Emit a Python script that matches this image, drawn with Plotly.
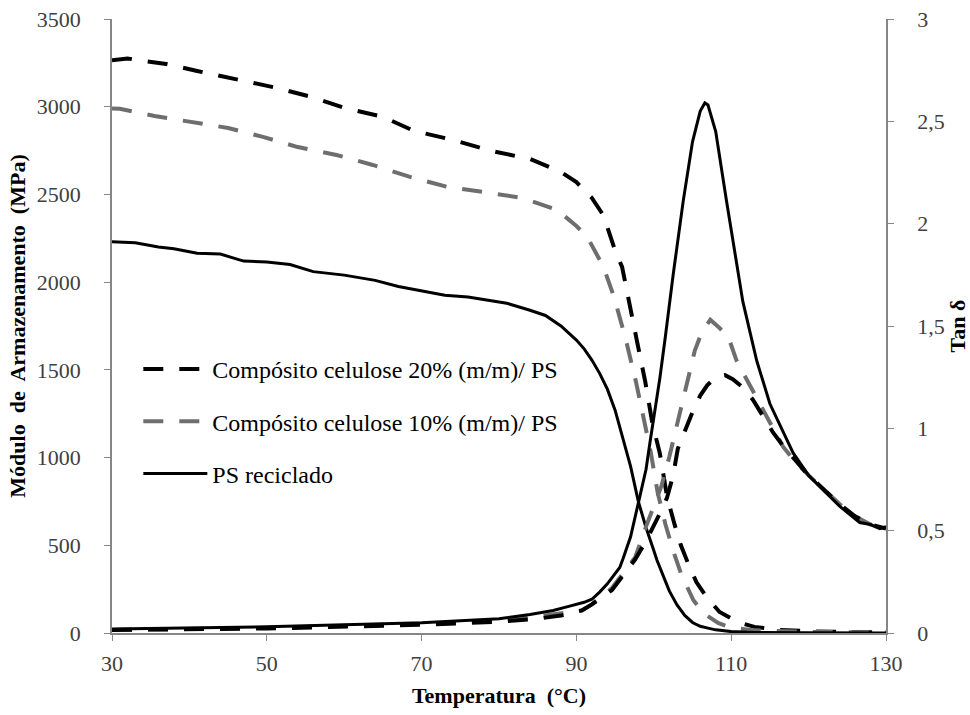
import plotly.graph_objects as go

# ---------------- data ----------------
# Storage modulus (MPa), left axis
T_E20 = [30, 32, 34, 37, 41, 46, 51, 56, 60, 65, 69, 74, 79, 84, 88, 90, 92, 93.5, 94.3, 95, 95.9, 96.9,
         97.8, 98.9, 99.8, 100.8, 101.7, 102.7, 103.5, 104.4, 105.5, 106.9, 108.5, 110.8, 113, 116, 120, 125, 130]
E20 = [3265, 3275, 3262, 3244, 3204, 3158, 3110, 3053, 2993, 2942, 2862, 2811, 2748, 2702, 2628, 2570, 2480,
       2380, 2280, 2180, 2087, 1881, 1670, 1431, 1200, 1020, 780, 616, 500, 400, 290, 200, 120, 63, 35, 18, 10, 6, 4]

T_E10 = [30, 31, 35.5, 40.5, 45, 49.5, 54, 59, 63.7, 68.5, 73.3, 78, 83, 87.5, 90, 91.4, 92.5, 93.5, 94.9,
         96.4, 97.7, 98.7, 99.6, 100.5, 101.5, 102.5, 103.5, 105.1, 106.5, 108.3, 110, 113, 120, 130]
E10 = [2990, 2988, 2947, 2913, 2879, 2828, 2770, 2725, 2668, 2600, 2543, 2514, 2480, 2412, 2320, 2258, 2170,
       2087, 1910, 1670, 1431, 1231, 1032, 800, 620, 470, 340, 188, 110, 57, 30, 15, 6, 3]

T_EPS = [30, 33, 36, 38, 41, 44, 47, 50, 53, 56, 60, 64, 67, 70, 73, 76, 79, 81, 84, 86, 88, 89, 90, 91, 92,
         93, 94, 95, 95.6, 96, 97, 98, 99, 100, 100.4, 101, 102, 103, 104, 105, 106, 107, 108, 110, 113, 120, 130]
EPS = [2230, 2225, 2200, 2190, 2165, 2160, 2120, 2115, 2100, 2060, 2040, 2010, 1975, 1950, 1925, 1915, 1895,
       1880, 1840, 1810, 1750, 1710, 1670, 1620, 1556, 1480, 1390, 1270, 1175, 1110, 950, 750, 600, 470, 416,
       350, 240, 160, 100, 60, 38, 28, 18, 8, 3, 1, 0]

# Tan delta, right axis
T_TPS = [30, 40, 50, 60, 70, 75, 80, 84, 87, 89, 91, 92, 93, 94, 95, 95.6, 96, 97, 98, 99, 99.5, 100, 100.8,
         101.5, 102.5, 103.8, 105, 106, 106.6, 107, 107.5, 108, 109.4, 110.5, 111.5, 113.3, 115, 116.5, 118, 120,
         122.4, 124, 126.6, 128, 129.2, 130]
TPS = [0.02, 0.025, 0.03, 0.04, 0.05, 0.06, 0.07, 0.09, 0.11, 0.13, 0.15, 0.165, 0.2, 0.24, 0.29, 0.32, 0.36,
       0.47, 0.635, 0.8, 0.93, 1.05, 1.25, 1.45, 1.75, 2.11, 2.40, 2.55, 2.59, 2.58, 2.52, 2.45, 2.11, 1.85, 1.62,
       1.33, 1.12, 1.0, 0.88, 0.77, 0.68, 0.62, 0.54, 0.53, 0.51, 0.52]

T_T10 = [30, 50, 70, 80, 85, 88, 90.7, 92, 94.6, 96, 97.6, 99, 100, 101, 102, 102.7, 103.5, 104.4, 105.3, 106.2,
         107.3, 108.5, 109.6, 110.7, 112, 114, 116.7, 118, 120, 122, 124, 126, 128, 130]
T10 = [0.015, 0.025, 0.045, 0.06, 0.08, 0.095, 0.11, 0.14, 0.22, 0.29, 0.37, 0.52, 0.62, 0.72, 0.86, 0.97, 1.1,
       1.24, 1.38, 1.47, 1.53, 1.49, 1.45, 1.33, 1.24, 1.10, 0.91, 0.85, 0.77, 0.70, 0.63, 0.57, 0.53, 0.51]

T_T20 = [30, 50, 70, 80, 85, 88, 90.7, 92, 94.6, 96, 97.6, 99, 100, 101, 101.7, 102.5, 103.1, 104, 104.9, 106,
         106.9, 108, 109.2, 110.2, 111.5, 112.8, 114, 115.4, 117, 118.9, 120, 122, 124, 126, 128, 130]
T20 = [0.015, 0.022, 0.04, 0.055, 0.07, 0.085, 0.11, 0.14, 0.21, 0.28, 0.36, 0.45, 0.52, 0.6, 0.66, 0.77, 0.9,
       0.99, 1.07, 1.16, 1.21, 1.25, 1.26, 1.24, 1.2, 1.14, 1.07, 0.98, 0.9, 0.82, 0.77, 0.70, 0.63, 0.57, 0.53, 0.51]

NAMES = ["Compósito celulose 20% (m/m)/ PS", "Compósito celulose 10% (m/m)/ PS", "PS reciclado"]

X_TICKS = [30, 50, 70, 90, 110, 130]
Y_TICKS = [0, 500, 1000, 1500, 2000, 2500, 3000, 3500]
Y2_TICKS = [0, 0.5, 1, 1.5, 2, 2.5, 3]
Y2_LABELS = ["0", "0,5", "1", "1,5", "2", "2,5", "3"]

# ---------------- styling ----------------
FONT = "Liberation Serif, Times New Roman, serif"
BLACK = "#000000"
GRAY = "#6e6e6e"
AXIS = "#868686"
DASH = "20px,16px"

fig = go.Figure()

# tan delta curves (secondary axis)
fig.add_trace(go.Scatter(x=T_T10, y=T10, yaxis="y2", mode="lines", showlegend=False,
                         line=dict(color=GRAY, width=4, dash=DASH)))
fig.add_trace(go.Scatter(x=T_T20, y=T20, yaxis="y2", mode="lines", showlegend=False,
                         line=dict(color=BLACK, width=4, dash=DASH)))
fig.add_trace(go.Scatter(x=T_TPS, y=TPS, yaxis="y2", mode="lines", showlegend=False,
                         line=dict(color=BLACK, width=3)))

# modulus curves (primary axis)
fig.add_trace(go.Scatter(x=T_E20, y=E20, mode="lines", name=NAMES[0], legendgroup="a",
                         line=dict(color=BLACK, width=4, dash=DASH)))
fig.add_trace(go.Scatter(x=T_E10, y=E10, mode="lines", name=NAMES[1], legendgroup="b",
                         line=dict(color=GRAY, width=4, dash=DASH)))
fig.add_trace(go.Scatter(x=T_EPS, y=EPS, mode="lines", name=NAMES[2], legendgroup="c",
                         line=dict(color=BLACK, width=3)))

tickfont = dict(family=FONT, size=22, color="#404040")
titlefont = dict(family=FONT, size=22, color="#000000", weight="bold")

fig.update_layout(
    width=970, height=715,
    margin=dict(l=112, r=84, t=19, b=82, autoexpand=False),
    paper_bgcolor="white", plot_bgcolor="white",
    font=dict(family=FONT, size=22, color="#000"),
    xaxis=dict(range=[30, 130], tickvals=X_TICKS, ticktext=[str(v) for v in X_TICKS], automargin=False,
               showgrid=False, zeroline=False, showline=True, linecolor=AXIS, linewidth=1.5,
               ticks="outside", ticklen=6, tickcolor=AXIS, tickfont=tickfont, ticklabelstandoff=4,
               title=dict(text="Temperatura  (°C)", font=titlefont, standoff=12)),
    yaxis=dict(range=[0, 3500], tickvals=Y_TICKS, ticktext=[str(v) for v in Y_TICKS], automargin=False,
               showgrid=False, zeroline=False, showline=True, linecolor=AXIS, linewidth=1.5,
               ticks="outside", ticklen=6, tickcolor=AXIS, tickfont=tickfont, ticklabelstandoff=19,
               title=dict(text="Módulo  de  Armazenamento  (MPa)", font=titlefont, standoff=5)),
    yaxis2=dict(range=[0, 3], overlaying="y", side="right", tickvals=Y2_TICKS, ticktext=Y2_LABELS,
                automargin=False,
                showgrid=False, zeroline=False, showline=True, linecolor=AXIS, linewidth=1.5,
                ticks="outside", ticklen=6, tickcolor=AXIS, tickfont=tickfont, ticklabelstandoff=19,
                title=dict(text="Tan δ", font=titlefont, standoff=2)),
    legend=dict(x=0.034, y=0.466, xanchor="left", yanchor="top", bgcolor="rgba(0,0,0,0)",
                font=dict(family=FONT, size=24, color="#000"), itemwidth=64,
                traceorder="grouped", tracegroupgap=18),
)

fig.write_html("out.html", config={"displayModeBar": False},
               post_script="document.body.style.margin='0px';")
